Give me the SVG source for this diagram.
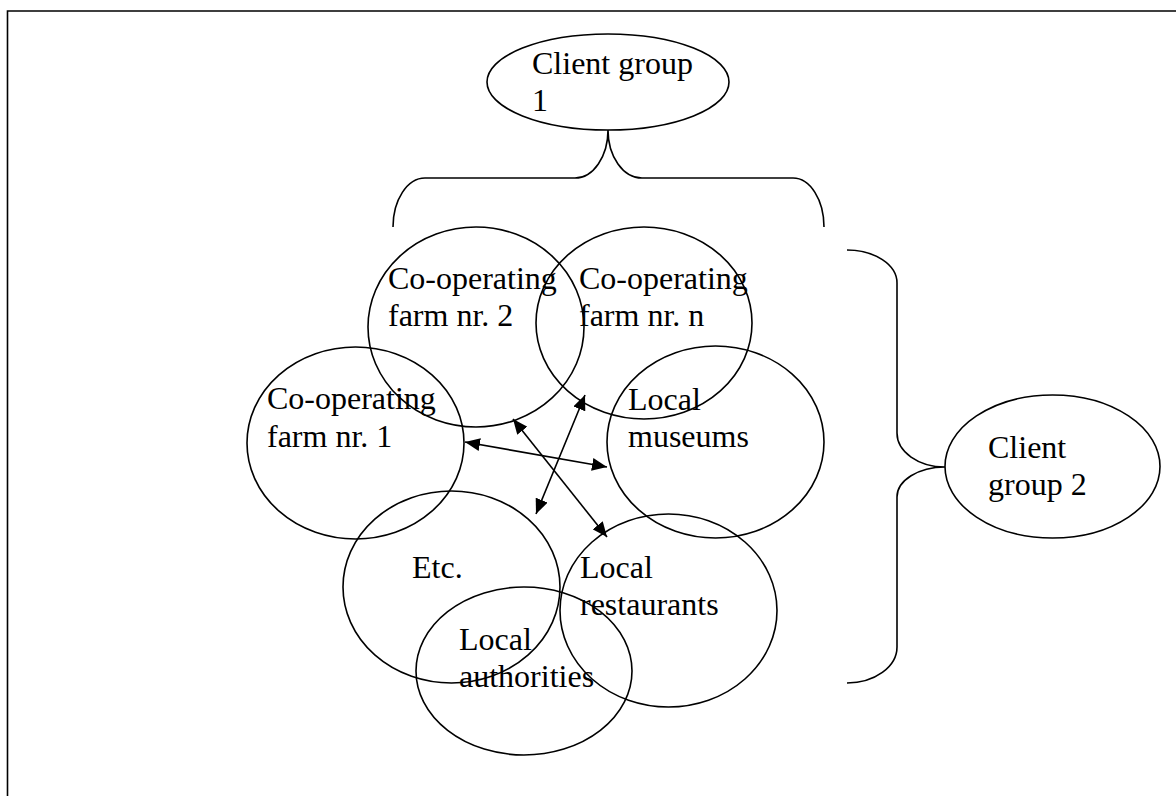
<svg xmlns="http://www.w3.org/2000/svg" width="1176" height="796" viewBox="0 0 1176 796">
<style>
.n{fill:none;stroke:#000;stroke-width:1.6}
.t{font-family:"Liberation Serif","Times New Roman",serif;font-size:32px;fill:#000}
.c{fill:none;stroke:#000;stroke-width:1.6}
.a{stroke:#000;stroke-width:1.6;marker-start:url(#ah);marker-end:url(#ah)}
</style>
<defs>
<marker id="ah" viewBox="0 0 15 13" refX="15" refY="6.5" markerWidth="15" markerHeight="13" markerUnits="userSpaceOnUse" orient="auto-start-reverse">
<path d="M0,0 L15,6.5 L0,13 z" fill="#000"/>
</marker>
</defs>
<rect width="1176" height="796" fill="#fff"/>
<g id="frame">
<path d="M7.5,796 L7.5,11 L1176,11" fill="none" stroke="#000" stroke-width="1.6"/>
</g>
<g id="client-group-1">
<ellipse class="n" cx="608" cy="82" rx="121" ry="48"/>
<text class="t" x="532" y="74">Client group</text>
<text class="t" x="532" y="111">1</text>
</g>
<g id="farm-2">
<ellipse class="n" cx="476" cy="327" rx="108" ry="100"/>
<text class="t" x="388" y="289">Co-operating</text>
<text class="t" x="388" y="326">farm nr. 2</text>
</g>
<g id="farm-n">
<ellipse class="n" cx="644" cy="323" rx="108" ry="96"/>
<text class="t" x="579" y="289">Co-operating</text>
<text class="t" x="579" y="326">farm nr. n</text>
</g>
<g id="farm-1">
<ellipse class="n" cx="355.5" cy="443" rx="108.5" ry="96"/>
<text class="t" x="267" y="409">Co-operating</text>
<text class="t" x="267" y="447">farm nr. 1</text>
</g>
<g id="local-museums">
<ellipse class="n" cx="715.5" cy="442" rx="108.5" ry="96"/>
<text class="t" x="628" y="410">Local</text>
<text class="t" x="628" y="447">museums</text>
</g>
<g id="etc">
<ellipse class="n" cx="451.5" cy="587" rx="108.5" ry="96"/>
<text class="t" x="412" y="578">Etc.</text>
</g>
<g id="local-restaurants">
<ellipse class="n" cx="668.5" cy="610.5" rx="108.5" ry="96.5"/>
<text class="t" x="580" y="578">Local</text>
<text class="t" x="580" y="615">restaurants</text>
</g>
<g id="local-authorities">
<ellipse class="n" cx="524" cy="671" rx="108" ry="84"/>
<text class="t" x="459" y="650">Local</text>
<text class="t" x="459" y="687">authorities</text>
</g>
<g id="client-group-2">
<ellipse class="n" cx="1052.5" cy="466.5" rx="107.5" ry="71.5"/>
<text class="t" x="988" y="458">Client</text>
<text class="t" x="988" y="495">group 2</text>
</g>
<g id="connectors">
<path class="c" d="M393,227 A32,49 0 0 1 425,178 L575,178 A33,48 0 0 0 608,130 A34,48 0 0 0 642,178 L793,178 A31,49 0 0 1 824,227"/>
<path class="c" d="M847,250 A50,33 0 0 1 897,283 L897,433 A48,34 0 0 0 945,467 A48,30 0 0 0 897,497 L897,647 A50,36 0 0 1 847,683"/>
<line class="a" x1="465" y1="442" x2="607" y2="467"/>
<line class="a" x1="513" y1="419" x2="607" y2="537"/>
<line class="a" x1="585" y1="395" x2="536" y2="514"/>
</g>
</svg>
